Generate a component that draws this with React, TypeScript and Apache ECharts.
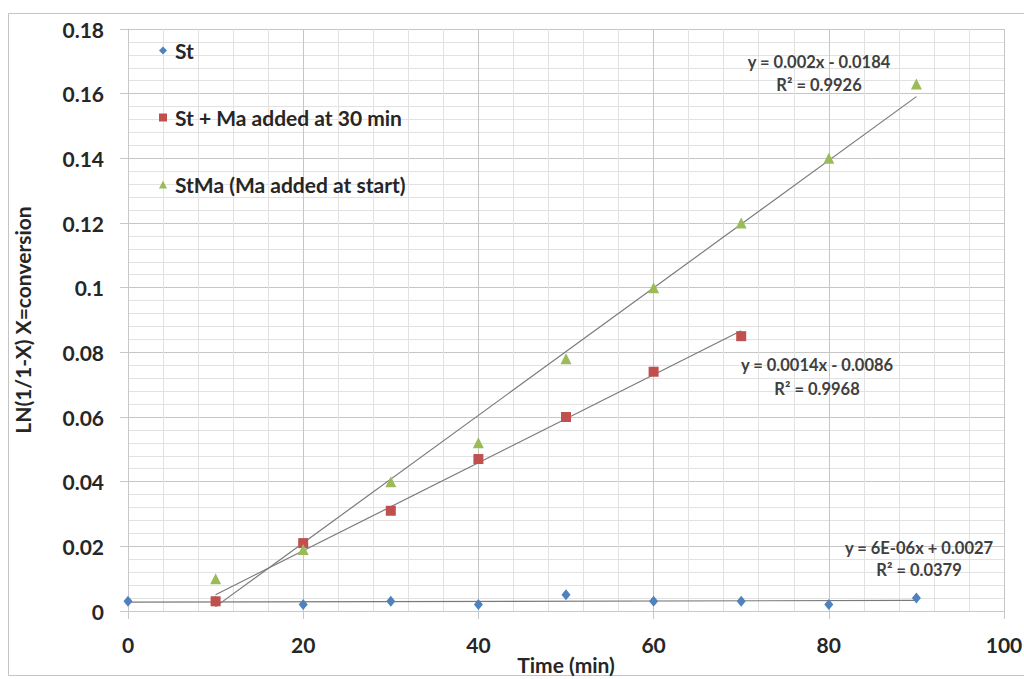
import React, { useEffect, useRef } from "react";
import * as echarts from "echarts";

const timeSt = [0, 10, 20, 30, 40, 50, 60, 70, 80, 90];
const valSt = [0.003, 0.003, 0.002, 0.003, 0.002, 0.005, 0.003, 0.003, 0.002, 0.004];
const timeStMa30 = [10, 20, 30, 40, 50, 60, 70];
const valStMa30 = [0.003, 0.021, 0.031, 0.047, 0.06, 0.074, 0.085];
const timeStMa = [10, 20, 30, 40, 50, 60, 70, 80, 90];
const valStMa = [0.01, 0.019, 0.04, 0.052, 0.078, 0.1, 0.12, 0.14, 0.163];

const seriesNames = ["St", "St + Ma added at 30 min", "StMa (Ma added at start)"];
const seriesColors = ["#4F81BD", "#C0504D", "#9BBB59"];
const trendEquations = ["y = 6E-06x + 0.0027", "y = 0.0014x - 0.0086", "y = 0.002x - 0.0184"];
const trendR2 = ["R² = 0.0379", "R² = 0.9968", "R² = 0.9926"];
const xTicksMax = 100;
const yTicksMax = 0.18;

function fit(xs: number[], ys: number[]) {
  const n = xs.length;
  const mx = xs.reduce((a, b) => a + b, 0) / n;
  const my = ys.reduce((a, b) => a + b, 0) / n;
  let sxy = 0, sxx = 0;
  for (let i = 0; i < n; i++) {
    sxy += (xs[i] - mx) * (ys[i] - my);
    sxx += (xs[i] - mx) * (xs[i] - mx);
  }
  const k = sxy / sxx;
  const b = my - k * mx;
  const x0 = Math.min(...xs), x1 = Math.max(...xs);
  return [[x0, k * x0 + b], [x1, k * x1 + b]];
}

const FONT = "Lato, 'Open Sans', sans-serif";

export default function App() {
  const ref = useRef<HTMLDivElement>(null);
  useEffect(() => {
    if (!ref.current) return;
    const chart = echarts.init(ref.current, undefined, { renderer: "svg" });
    const sets = [
      { xs: timeSt, ys: valSt, symbol: "diamond", size: [9, 11] },
      { xs: timeStMa30, ys: valStMa30, symbol: "rect", size: 10 },
      { xs: timeStMa, ys: valStMa, symbol: "triangle", size: 11 },
    ];
    const trendSeries = sets.map((s, i) => ({
      name: "trend" + i,
      type: "line",
      data: fit(s.xs, s.ys),
      showSymbol: false,
      symbol: "none",
      lineStyle: { color: "#7a7a7a", width: 1.2 },
      z: 2,
      silent: true,
    }));
    const scatterSeries = sets.map((s, i) => ({
      name: seriesNames[i],
      type: "scatter",
      data: s.xs.map((x, j) => [x, s.ys[j]]),
      symbol: s.symbol,
      symbolSize: s.size,
      itemStyle: { color: seriesColors[i], opacity: 1 },
      z: 3,
    }));
    const labelPos = [
      [919, 548, 570],
      [817, 365, 389],
      [819, 62, 85],
    ];
    const graphics: any[] = [
      {
        type: "rect",
        shape: { x: 8.5, y: 13.5, width: 1040, height: 662 },
        style: { fill: "none", stroke: "#c4c4c4", lineWidth: 1 },
        silent: true,
        z: -10,
      },
    ];
    labelPos.forEach((p, i) => {
      graphics.push({
        type: "text",
        x: p[0],
        y: p[1],
        style: {
          text: trendEquations[i],
          font: `bold 16.5px ${FONT}`,
          fill: "#404040",
          textAlign: "center",
          textVerticalAlign: "middle",
        },
        z: 10,
      });
      graphics.push({
        type: "text",
        x: p[0],
        y: p[2],
        style: {
          text: trendR2[i],
          font: `bold 16.5px ${FONT}`,
          fill: "#404040",
          textAlign: "center",
          textVerticalAlign: "middle",
        },
        z: 10,
      });
    });
    chart.setOption({
      animation: false,
      backgroundColor: "#ffffff",
      textStyle: { fontFamily: FONT },
      grid: {
        left: 128,
        right: 20,
        top: 29,
        bottom: 68,
        containLabel: false,
        outerBoundsMode: "none",
      },
      legend: {
        data: seriesNames,
        orient: "vertical",
        left: 154,
        top: 35,
        itemWidth: 8,
        itemHeight: 8,
        itemGap: 46,
        textStyle: {
          fontFamily: FONT,
          fontSize: 21,
          fontWeight: "bold",
          color: "#262626",
          lineHeight: 20,
          padding: [0, 0, 0, 3],
        },
        selectedMode: false,
      },
      xAxis: {
        type: "value",
        min: 0,
        max: xTicksMax,
        interval: 20,
        name: "Time (min)",
        nameLocation: "middle",
        nameGap: 42,
        nameMoveOverlap: false,
        nameTextStyle: {
          fontFamily: FONT,
          fontSize: 21,
          fontWeight: "bold",
          color: "#262626",
          lineHeight: 22,
        },
        axisLine: { show: true, lineStyle: { color: "#c8c8c8" } },
        axisTick: { show: true, length: 8, lineStyle: { color: "#c8c8c8" } },
        axisLabel: { fontFamily: FONT, fontSize: 21, fontWeight: "bold", color: "#262626", margin: 23 },
        splitLine: { show: true, lineStyle: { color: "#c6c6c6", width: 1 } },
        minorTick: { show: false, splitNumber: 5 },
        minorSplitLine: { show: true, lineStyle: { color: "#e2e2e2", width: 1 } },
      },
      yAxis: {
        type: "value",
        min: 0,
        max: yTicksMax,
        interval: 0.02,
        name: "LN(1/1-X) X=conversion",
        nameLocation: "middle",
        nameGap: 95,
        nameMoveOverlap: false,
        nameTextStyle: { fontFamily: FONT, fontSize: 21, fontWeight: "bold", color: "#262626" },
        axisLine: { show: true, lineStyle: { color: "#c8c8c8" } },
        axisTick: { show: true, length: 8, lineStyle: { color: "#c8c8c8" } },
        axisLabel: { fontFamily: FONT, fontSize: 21, fontWeight: "bold", color: "#262626", margin: 24 },
        splitLine: { show: true, lineStyle: { color: "#c6c6c6", width: 1 } },
        minorTick: { show: false, splitNumber: 5 },
        minorSplitLine: { show: true, lineStyle: { color: "#e2e2e2", width: 1 } },
      },
      graphic: graphics,
      series: [...trendSeries, ...scatterSeries],
    });
    return () => chart.dispose();
  }, []);
  return (
    <div
      ref={ref}
      style={{ position: "fixed", left: 0, top: 0, width: 1024, height: 679, background: "#fff" }}
    />
  );
}
